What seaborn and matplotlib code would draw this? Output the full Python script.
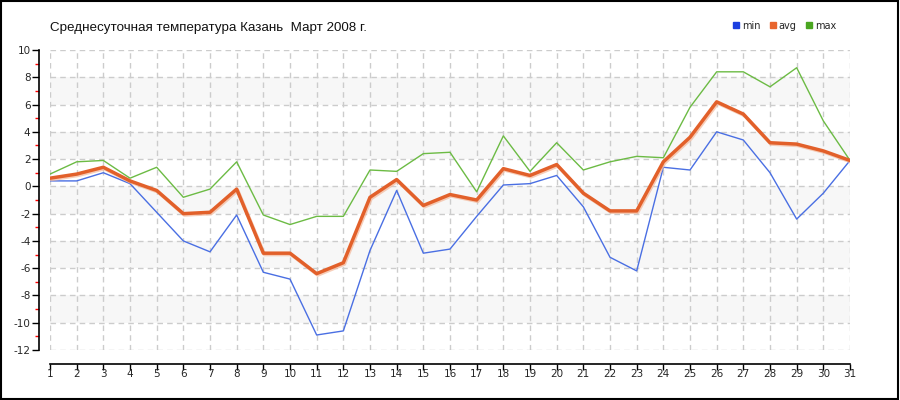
import numpy as np
import pandas as pd
import seaborn as sns
import matplotlib.pyplot as plt
import matplotlib.patheffects as pe
from matplotlib.lines import Line2D
from matplotlib.patches import Rectangle

title = "Среднесуточная температура Казань  Март 2008 г."
days = list(range(1, 32))
t_min = [0.4, 0.4, 1.0, 0.2, -1.9, -4.0, -4.8, -2.1, -6.3, -6.8, -10.9, -10.6, -4.7, -0.3, -4.9, -4.6,
         -2.2, 0.1, 0.2, 0.8, -1.5, -5.2, -6.2, 1.4, 1.2, 4.0, 3.4, 1.0, -2.4, -0.5, 1.9]
t_avg = [0.6, 0.9, 1.4, 0.4, -0.3, -2.0, -1.9, -0.2, -4.9, -4.9, -6.4, -5.6, -0.8, 0.5, -1.4, -0.6,
         -1.0, 1.3, 0.8, 1.6, -0.5, -1.8, -1.8, 1.8, 3.6, 6.2, 5.3, 3.2, 3.1, 2.6, 1.9]
t_max = [0.9, 1.8, 1.9, 0.6, 1.4, -0.8, -0.2, 1.8, -2.1, -2.8, -2.2, -2.2, 1.2, 1.1, 2.4, 2.5,
         -0.4, 3.7, 1.1, 3.2, 1.2, 1.8, 2.2, 2.1, 5.8, 8.4, 8.4, 7.3, 8.7, 4.8, 1.9]
series_names = ["min", "avg", "max"]
line_colors = {"min": "#4a6fe3", "avg": "#e2602a", "max": "#6cbb44"}
legend_colors = {"min": "#1c3fe0", "avg": "#e8662e", "max": "#4aa620"}

sns.set_style("white")
plt.rcParams['font.family'] = ['DejaVu Sans']
plt.rcParams['axes.unicode_minus'] = False

df = pd.DataFrame({"day": days * 3,
                   "temp": t_min + t_avg + t_max,
                   "series": [s for s in series_names for _ in days]})

fig = plt.figure(figsize=(9, 4), dpi=100)
ax = fig.add_axes([50 / 900, 50 / 400, 800 / 900, 300 / 400])

# alternating bands
for lo in [-10, -6, -2, 2, 6]:
    ax.axhspan(lo, lo + 2, color="#f7f7f7", zorder=0, lw=0)

sns.lineplot(data=df[df.series == "min"], x="day", y="temp", color=line_colors["min"], lw=1, ax=ax, zorder=3)
sns.lineplot(data=df[df.series == "max"], x="day", y="temp", color=line_colors["max"], lw=1, ax=ax, zorder=3)
sns.lineplot(data=df[df.series == "avg"], x="day", y="temp", color=line_colors["avg"], lw=2.5, ax=ax, zorder=4,
             path_effects=[pe.SimpleLineShadow(offset=(0.8, -1), shadow_color="#f4b89a", alpha=0.7), pe.Normal()])

ax.set_xlim(1, 31)
ax.set_ylim(-12, 10)
ax.set_xlabel("")
ax.set_ylabel("")
ax.set_xticks(days)
ax.set_yticks(range(-12, 11, 2))
ax.set_yticks(range(-11, 10, 2), minor=True)
ax.grid(True, which="major", color="#cccccc", ls=(0, (4, 3)), lw=1, zorder=1)
ax.set_axisbelow(True)

for s in ["top", "right"]:
    ax.spines[s].set_visible(False)
ax.spines["left"].set_position(("outward", 8))
ax.spines["bottom"].set_position(("outward", 10))
ax.spines["left"].set_color("black")
ax.spines["bottom"].set_color("black")
ax.spines["left"].set_linewidth(1.2)
ax.spines["bottom"].set_linewidth(1.2)

ax.tick_params(axis="y", which="major", length=5, width=1, color="black", labelsize=7.5, pad=1, left=True)
ax.tick_params(axis="y", which="minor", length=3, width=1, color="red", left=True)
ax.tick_params(axis="x", which="major", length=4, width=1, color="black", labelsize=7.5, pad=0, bottom=True)

fig.text(50 / 900, 1 - 28 / 400, title, fontsize=9.6, va="center", ha="left", color="#111111",
         family=["Liberation Sans", "DejaVu Sans"])

handles = [Line2D([], [], ls="", marker="s", markersize=5, color=legend_colors[n]) for n in series_names]
fig.legend(handles, series_names, loc="upper right", bbox_to_anchor=(845 / 900, 1 - 12 / 400), ncol=3,
           frameon=False, fontsize=7, handletextpad=0.1, columnspacing=0.8, handlelength=1)

fig.patches.append(Rectangle((0.001, 0.002), 0.997, 0.996, transform=fig.transFigure, fill=False,
                             edgecolor="black", lw=1.5))

fig.savefig("out.png", dpi=100)
